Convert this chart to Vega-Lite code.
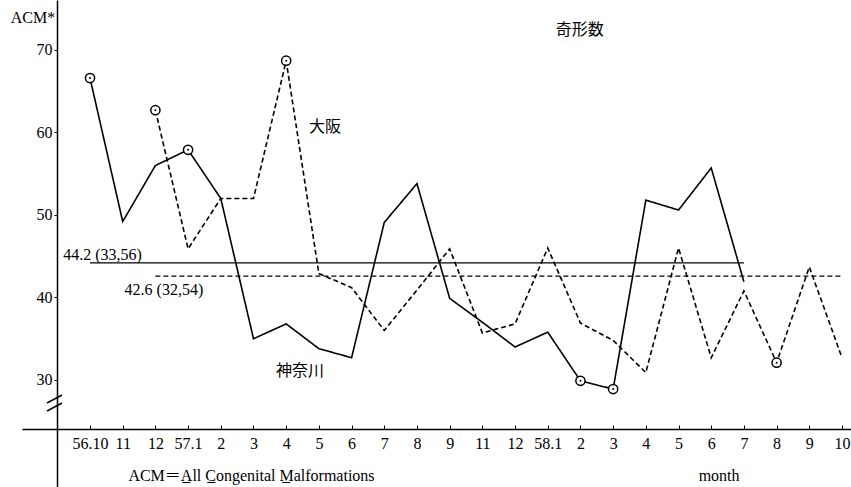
{
  "$schema": "https://vega.github.io/schema/vega-lite/v6.json",
  "width": 829,
  "height": 487,
  "autosize": "none",
  "padding": {"left": 22, "top": 0, "right": 0, "bottom": 0},
  "background": "white",
  "config": {
    "view": {"stroke": null},
    "font": "Liberation Serif",
    "axis": {"grid": false, "domainColor": "black", "tickColor": "black", "labelColor": "black", "labelFont": "Liberation Serif", "labelFontSize": 16, "domainWidth": 1.5, "title": null},
    "axisX": {"labelOverlap": false, "labelFlush": false},
    "text": {"font": "Liberation Serif, Noto Sans CJK JP", "fontSize": 16, "color": "black"}
  },
  "datasets": {
    "series": [
      {"idx": 0, "region": "神奈川", "acm": 66.6, "outlier": true},
      {"idx": 1, "region": "神奈川", "acm": 49.2, "outlier": false},
      {"idx": 2, "region": "神奈川", "acm": 56.0, "outlier": false},
      {"idx": 3, "region": "神奈川", "acm": 57.9, "outlier": true},
      {"idx": 4, "region": "神奈川", "acm": 52.0, "outlier": false},
      {"idx": 5, "region": "神奈川", "acm": 35.0, "outlier": false},
      {"idx": 6, "region": "神奈川", "acm": 36.8, "outlier": false},
      {"idx": 7, "region": "神奈川", "acm": 33.8, "outlier": false},
      {"idx": 8, "region": "神奈川", "acm": 32.7, "outlier": false},
      {"idx": 9, "region": "神奈川", "acm": 49.1, "outlier": false},
      {"idx": 10, "region": "神奈川", "acm": 53.8, "outlier": false},
      {"idx": 11, "region": "神奈川", "acm": 39.9, "outlier": false},
      {"idx": 12, "region": "神奈川", "acm": 37.0, "outlier": false},
      {"idx": 13, "region": "神奈川", "acm": 34.0, "outlier": false},
      {"idx": 14, "region": "神奈川", "acm": 35.8, "outlier": false},
      {"idx": 15, "region": "神奈川", "acm": 29.9, "outlier": true},
      {"idx": 16, "region": "神奈川", "acm": 28.9, "outlier": true},
      {"idx": 17, "region": "神奈川", "acm": 51.8, "outlier": false},
      {"idx": 18, "region": "神奈川", "acm": 50.6, "outlier": false},
      {"idx": 19, "region": "神奈川", "acm": 55.7, "outlier": false},
      {"idx": 20, "region": "神奈川", "acm": 41.9, "outlier": false},
      {"idx": 2, "region": "大阪", "acm": 62.7, "outlier": true},
      {"idx": 3, "region": "大阪", "acm": 45.9, "outlier": false},
      {"idx": 4, "region": "大阪", "acm": 52.0, "outlier": false},
      {"idx": 5, "region": "大阪", "acm": 52.0, "outlier": false},
      {"idx": 6, "region": "大阪", "acm": 68.7, "outlier": true},
      {"idx": 7, "region": "大阪", "acm": 42.9, "outlier": false},
      {"idx": 8, "region": "大阪", "acm": 41.2, "outlier": false},
      {"idx": 9, "region": "大阪", "acm": 36.0, "outlier": false},
      {"idx": 10, "region": "大阪", "acm": 40.9, "outlier": false},
      {"idx": 11, "region": "大阪", "acm": 45.9, "outlier": false},
      {"idx": 12, "region": "大阪", "acm": 35.7, "outlier": false},
      {"idx": 13, "region": "大阪", "acm": 36.8, "outlier": false},
      {"idx": 14, "region": "大阪", "acm": 46.0, "outlier": false},
      {"idx": 15, "region": "大阪", "acm": 36.9, "outlier": false},
      {"idx": 16, "region": "大阪", "acm": 34.8, "outlier": false},
      {"idx": 17, "region": "大阪", "acm": 30.9, "outlier": false},
      {"idx": 18, "region": "大阪", "acm": 46.0, "outlier": false},
      {"idx": 19, "region": "大阪", "acm": 32.7, "outlier": false},
      {"idx": 20, "region": "大阪", "acm": 40.8, "outlier": false},
      {"idx": 21, "region": "大阪", "acm": 32.1, "outlier": true},
      {"idx": 22, "region": "大阪", "acm": 43.7, "outlier": false},
      {"idx": 23, "region": "大阪", "acm": 32.7, "outlier": false}
    ],
    "means": [
      {"region": "神奈川", "acm": 44.2, "idx": 0, "end": 20},
      {"region": "大阪", "acm": 42.6, "idx": 2, "end": 23}
    ],
    "breaks": [
      {"idx": -1.315, "end": -0.856, "acm": 27.21, "acm2": 28.18},
      {"idx": -1.315, "end": -0.856, "acm": 26.24, "acm2": 27.21}
    ],
    "notes": [
      {"label": "ACM*", "idx": -1.743, "acm": 73.88},
      {"label": "奇形数", "idx": 14.98, "acm": 72.42},
      {"label": "大阪", "idx": 7.19, "acm": 60.67},
      {"label": "神奈川", "idx": 6.42, "acm": 31.09},
      {"label": "44.2 (33,56)", "idx": 0.382, "acm": 45.15},
      {"label": "42.6 (32,54)", "idx": 2.26, "acm": 40.91},
      {"label": "ACM＝A̲ll C̲ongenital M̲alformations", "idx": 4.939, "acm": 18.36},
      {"label": "month", "idx": 19.24, "acm": 18.36}
    ]
  },
  "encoding": {
    "x": {"field": "idx", "type": "quantitative",
          "scale": {"domain": [-2.08, 23.275], "nice": false, "zero": false},
          "axis": {"orient": "bottom", "offset": -58, "values": [0,1,2,3,4,5,6,7,8,9,10,11,12,13,14,15,16,17,18,19,20,21,22,23],
                   "labelExpr": "['56.10','11','12','57.1','2','3','4','5','6','7','8','9','11','12','58.1','2','3','4','5','6','7','8','9','10'][datum.value]",
                   "tickSize": -4, "labelPadding": 10, "labelFlush": false, "labelOverlap": false}},
    "y": {"field": "acm", "type": "quantitative",
          "scale": {"domain": [17.03, 76.06], "nice": false, "zero": false},
          "axis": {"orient": "left", "offset": -35, "values": [30, 40, 50, 60, 70], "tickSize": 3, "labelPadding": 2}}
  },
  "layer": [
    {
      "data": {"name": "means"},
      "mark": {"type": "rule", "color": "black", "strokeWidth": 1.2},
      "encoding": {
        "x2": {"field": "end"},
        "strokeDash": {"field": "region", "type": "nominal", "scale": {"domain": ["神奈川", "大阪"], "range": [[1, 0], [5, 3]]}, "legend": null}
      }
    },
    {
      "data": {"name": "series"},
      "mark": {"type": "line", "color": "black", "strokeWidth": 1.6},
      "encoding": {
        "detail": {"field": "region"},
        "strokeDash": {"field": "region", "type": "nominal", "legend": null}
      }
    },
    {
      "data": {"name": "series"},
      "transform": [{"filter": "datum.outlier"}],
      "mark": {"type": "point", "shape": "circle", "filled": false, "fill": "white", "fillOpacity": 1, "stroke": "black", "strokeWidth": 1.5, "size": 85, "opacity": 1}
    },
    {
      "data": {"name": "series"},
      "transform": [{"filter": "datum.outlier"}],
      "mark": {"type": "point", "shape": "circle", "filled": true, "color": "black", "size": 4, "opacity": 1}
    },
    {
      "data": {"name": "breaks"},
      "mark": {"type": "rule", "color": "black", "strokeWidth": 1.5, "clip": false},
      "encoding": {
        "x2": {"field": "end"},
        "y2": {"field": "acm2"}
      }
    },
    {
      "data": {"name": "notes"},
      "mark": {"type": "text", "align": "center", "baseline": "middle", "clip": false},
      "encoding": {
        "text": {"field": "label", "type": "nominal"}
      }
    }
  ]
}
